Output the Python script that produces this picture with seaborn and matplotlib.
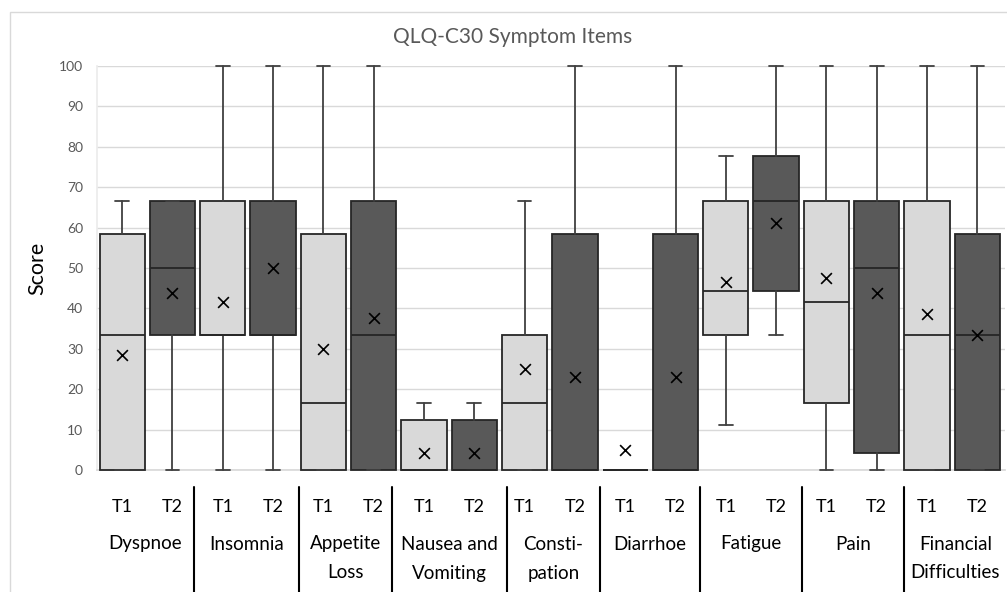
import matplotlib
matplotlib.use("Agg")
import matplotlib.pyplot as plt
from matplotlib.lines import Line2D
from matplotlib.patches import Rectangle
import matplotlib.transforms as mtransforms
import seaborn as sns

# symptom items, each with T1 and T2 box
items = ["Dyspnoe", "Insomnia", "Appetite\nLoss", "Nausea and\nVomiting", "Consti-\npation",
         "Diarrhoe", "Fatigue", "Pain", "Financial\nDifficulties"]
times = ["T1", "T2"]

# box stats in order: item1 T1, item1 T2, item2 T1, ...
whisk_low = [0, 0, 0, 0, 0, 0, 0, 0, 0, 0, 0, 0, 11.1, 33.3, 0, 0, 0, 0]
q1 = [0, 33.3, 33.3, 33.3, 0, 0, 0, 0, 0, 0, 0, 0, 33.3, 44.4, 16.7, 4.2, 0, 0]
median = [33.3, 50, 33.3, 33.3, 16.7, 33.3, 0, 0, 16.7, 0, 0, 0, 44.4, 66.7, 41.7, 50, 33.3, 33.3]
q3 = [58.3, 66.7, 66.7, 66.7, 58.3, 66.7, 12.5, 12.5, 33.3, 58.3, 0, 58.3, 66.7, 77.8, 66.7, 66.7, 66.7, 58.3]
whisk_high = [66.7, 66.7, 100, 100, 100, 100, 16.7, 16.7, 66.7, 100, 0, 100, 77.8, 100, 100, 100, 100, 100]
means = [28.4, 43.7, 41.7, 50, 30.0, 37.6, 4.1, 4.1, 25.0, 22.9, 5.0, 22.9, 46.6, 61.2, 47.5, 43.7, 38.5, 33.3]

LIGHT = "#d9d9d9"
DARK = "#595959"
EDGE = "#262626"

sns.set_theme(style="whitegrid")
plt.rcParams["font.family"] = ["Lato", "DejaVu Sans"]

fig = plt.figure(figsize=(10.07, 5.92), dpi=100)
ax = fig.add_axes([97 / 1007, (592 - 470) / 592, (1005 - 97) / 1007, (470 - 66) / 592])

positions = list(range(len(q1)))
stats = []
for i in positions:
    stats.append({"whislo": whisk_low[i], "q1": q1[i], "med": median[i],
                  "q3": q3[i], "whishi": whisk_high[i], "fliers": []})

bp = ax.bxp(stats, positions=positions, widths=0.9, patch_artist=True,
            showfliers=False, capwidths=0.27,
            boxprops=dict(edgecolor=EDGE, linewidth=1.3),
            medianprops=dict(color=EDGE, linewidth=1.3),
            whiskerprops=dict(color="#404040", linewidth=1.3),
            capprops=dict(color="#404040", linewidth=1.3))
for i, patch in enumerate(bp["boxes"]):
    patch.set_facecolor(LIGHT if i % 2 == 0 else DARK)
    patch.set_zorder(3)
    patch.set_clip_on(False)
for ln in bp["medians"] + bp["whiskers"] + bp["caps"]:
    ln.set_clip_on(False)
    ln.set_zorder(4)

# mean markers
sns.scatterplot(x=positions, y=means, marker="x", color="black", s=60,
                linewidth=1.2, ax=ax, zorder=5, legend=False)

ax.set_xlim(-0.5, 17.55)
ax.set_ylim(0, 100)
ax.set_yticks(range(0, 101, 10))
ax.tick_params(axis="y", labelsize=10, labelcolor="#595959", pad=10, length=0)
ax.set_xticks([])
ax.grid(axis="y", color=LIGHT, linewidth=1)
ax.grid(axis="x", visible=False)
for s in ["top", "right"]:
    ax.spines[s].set_visible(False)
ax.spines["bottom"].set_color(LIGHT)
ax.spines["left"].set_color("#ececec")
ax.set_xlabel("")
ax.set_ylabel("")

# multi-level x labels: T1/T2 under each box
trans = mtransforms.blended_transform_factory(ax.transData, fig.transFigure)
for i in positions:
    ax.text(i, (592 - 507) / 592, times[i % 2], transform=trans, ha="center",
            va="center", fontsize=13, color="black", clip_on=False)

# group separators (placed by hand in the original, pixel x)
sep_px = [194, 299, 392, 507, 600, 700, 802, 904]
for px in sep_px:
    fig.add_artist(Line2D([px / 1007, px / 1007], [(592 - 487) / 592, 0],
                          transform=fig.transFigure, color="black", linewidth=1.5))

# item names centred between separators
edges = [97] + sep_px + [1007]
line_y = [(592 - 544) / 592, (592 - 573) / 592]
for k, name in enumerate(items):
    cx = (edges[k] + edges[k + 1]) / 2 / 1007
    for j, part in enumerate(name.split("\n")):
        fig.text(cx, line_y[j], part, ha="center", va="center",
                 fontsize=13.5, color="black")

fig.text(513 / 1007, (592 - 37) / 592, "QLQ-C30 Symptom Items", ha="center", va="center",
         fontsize=15, color="#595959")
fig.text(37 / 1007, (592 - 268) / 592, "Score", rotation=90, ha="center", va="center",
         fontsize=15.5, color="black")

# chart area border
fig.add_artist(Rectangle((10 / 1007, -0.1), 1.2, (592 - 12) / 592 + 0.1,
                         transform=fig.transFigure, fill=False,
                         edgecolor=LIGHT, linewidth=1))

fig.savefig("out.png", dpi=100)
